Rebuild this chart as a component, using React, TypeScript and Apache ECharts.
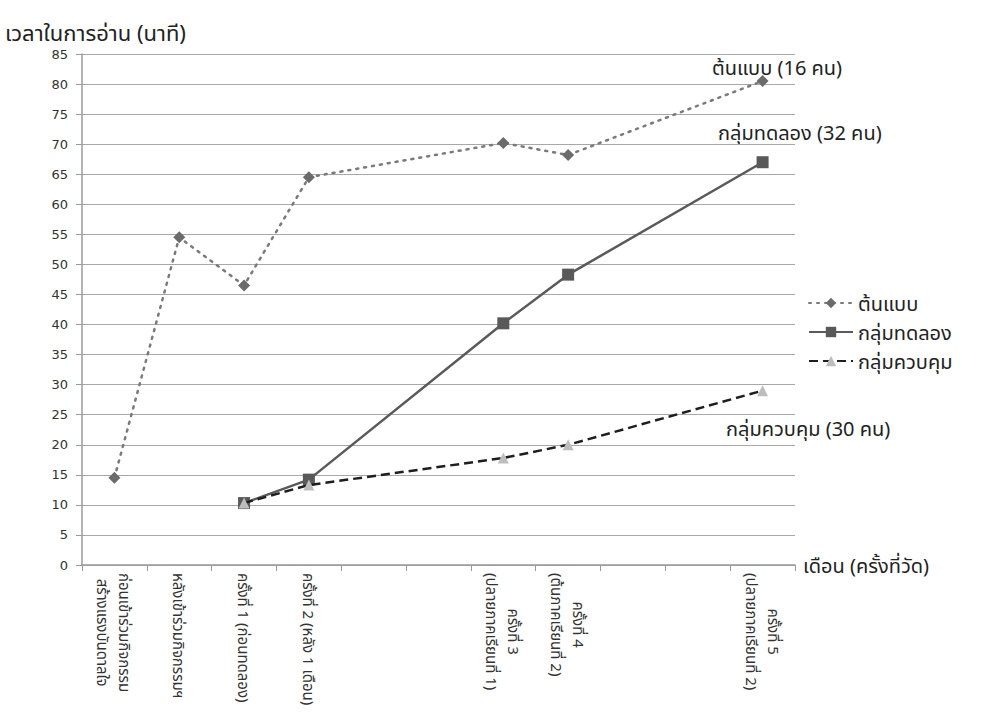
import React, { useEffect, useRef } from "react";
import * as echarts from "echarts";

const categories = [
  "ก่อนเข้าร่วมกิจกรรม\nสร้างแรงบันดาลใจ",
  "หลังเข้าร่วมกิจกรรมฯ",
  "ครั้งที่ 1 (ก่อนทดลอง)",
  "ครั้งที่ 2 (หลัง 1 เดือน)",
  "",
  "",
  "ครั้งที่ 3\n(ปลายภาคเรียนที่ 1)",
  "ครั้งที่ 4\n(ต้นภาคเรียนที่ 2)",
  "",
  "",
  "ครั้งที่ 5\n(ปลายภาคเรียนที่ 2)",
];

const seriesNames = ["ต้นแบบ", "กลุ่มทดลอง", "กลุ่มควบคุม"];
const prototypeValues = [14.5, 54.5, 46.5, 64.5, null, null, 70.2, 68.2, null, null, 80.5];
const experimentValues = [null, null, 10.3, 14.2, null, null, 40.2, 48.3, null, null, 67];
const controlValues = [null, null, 10.3, 13.3, null, null, 17.8, 20, null, null, 29];
const yTicks = { min: 0, max: 85, interval: 5 };
const annotations = ["ต้นแบบ (16 คน)", "กลุ่มทดลอง (32 คน)", "กลุ่มควบคุม (30 คน)"];

const FONT = "'Noto Sans', 'Noto Sans Thai', sans-serif";
const NUMFONT = "Verdana, 'DejaVu Sans', sans-serif";

export default function App() {
  const ref = useRef<HTMLDivElement>(null);
  useEffect(() => {
    if (!ref.current) return;
    const chart = echarts.init(ref.current, null, { renderer: "svg" });
    const grid = { left: 82, right: 189, top: 54, bottom: 154 };
    const txt = (text: string, x: number, y: number, size: number) => ({
      type: "text",
      x,
      y,
      style: { text, fontSize: size, fill: "#222", fontFamily: FONT, verticalAlign: "middle", align: "left" },
    });
    chart.setOption({
      animation: false,
      textStyle: { fontFamily: FONT },
      grid,
      legend: {
        orient: "vertical",
        left: 803,
        top: 288,
        itemWidth: 44,
        itemHeight: 13,
        itemGap: 9,
        textStyle: { fontSize: 20, color: "#222", fontFamily: FONT },
        data: seriesNames,
      },
      graphic: [
        txt("เวลาในการอ่าน (นาที)", 5, 32, 22),
        txt(annotations[0], 712, 67, 20),
        txt(annotations[1], 718, 132, 20),
        txt(annotations[2], 726, 428, 20),
      ],
      xAxis: {
        type: "category",
        data: categories,
        boundaryGap: true,
        name: "เดือน (ครั้งที่วัด)",
        nameLocation: "end",
        nameGap: 8,
        nameTextStyle: { fontSize: 20, color: "#222", fontFamily: FONT, verticalAlign: "middle" },
        axisLine: { lineStyle: { color: "#9a9a9a", width: 1.5 } },
        axisTick: { show: true, length: 6, lineStyle: { color: "#9a9a9a" } },
        axisLabel: {
          interval: 0,
          rotate: -90,
          fontSize: 15,
          color: "#333",
          lineHeight: 22,
          margin: 8,
          fontFamily: FONT,
          formatter: (v: string) =>
            v ? v.split("\n").map((l) => `{c|${l}}`).join("\n") : "",
          rich: {
            c: { align: "center", fontSize: 15, lineHeight: 22, color: "#333", fontFamily: FONT },
          },
        },
        splitLine: { show: false },
      },
      yAxis: {
        type: "value",
        min: yTicks.min,
        max: yTicks.max,
        interval: yTicks.interval,
        axisLine: { show: true, lineStyle: { color: "#9a9a9a", width: 1.5 } },
        axisTick: { show: true, length: 6, lineStyle: { color: "#9a9a9a" } },
        axisLabel: { fontSize: 13, color: "#333", margin: 14, fontFamily: NUMFONT },
        splitLine: { lineStyle: { color: "#a8a8a8", width: 1.2 } },
      },
      series: [
        {
          name: seriesNames[0],
          type: "line",
          data: prototypeValues,
          connectNulls: true,
          symbol: "diamond",
          symbolSize: 12,
          itemStyle: { color: "#6b6b6b" },
          lineStyle: { color: "#7a7a7a", width: 2.5, type: [2, 6], cap: "round" },
          z: 3,
        },
        {
          name: seriesNames[1],
          type: "line",
          data: experimentValues,
          connectNulls: true,
          symbol: "rect",
          symbolSize: 12,
          itemStyle: { color: "#595959" },
          lineStyle: { color: "#5a5a5a", width: 2.5, type: "solid" },
          z: 2,
        },
        {
          name: seriesNames[2],
          type: "line",
          data: controlValues,
          connectNulls: true,
          symbol: "triangle",
          symbolSize: 11,
          itemStyle: { color: "#bdbdbd" },
          lineStyle: { color: "#1e1e1e", width: 2.5, type: [9, 5] },
          z: 4,
        },
      ],
    });
    return () => chart.dispose();
  }, []);
  return <div ref={ref} style={{ width: 984, height: 719, position: "absolute", left: 0, top: 0 }} />;
}
